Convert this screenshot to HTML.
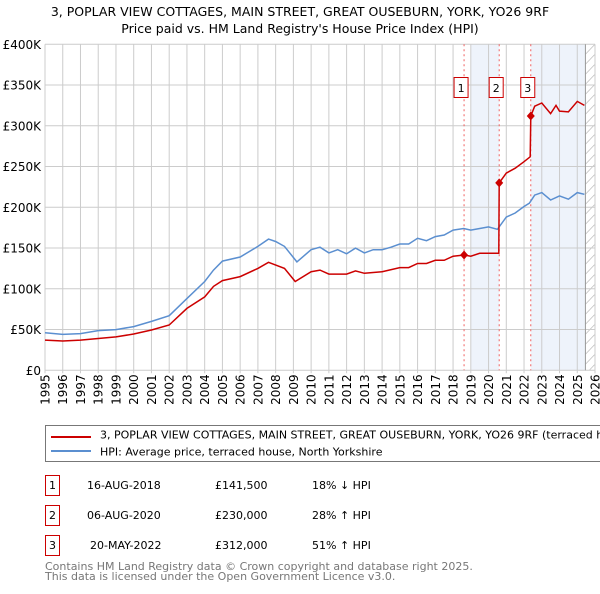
<!DOCTYPE html>
<html><head><meta charset="utf-8"><style>
body{margin:0;background:#fff;font-family:"DejaVu Sans","Liberation Sans",sans-serif;}
svg text{font-family:"DejaVu Sans","Liberation Sans",sans-serif;}
</style></head><body>
<svg id="c" width="600" height="590" xmlns="http://www.w3.org/2000/svg">
<text x="300" y="16" text-anchor="middle" font-size="12.5">3, POPLAR VIEW COTTAGES, MAIN STREET, GREAT OUSEBURN, YORK, YO26 9RF</text>
<text x="300" y="33" text-anchor="middle" font-size="12.5">Price paid vs. HM Land Registry's House Price Index (HPI)</text>
<g id="plot"></g>
<rect x="45.5" y="425.5" width="570" height="36" fill="#fff" stroke="#777"/>
<line x1="51" y1="437" x2="91" y2="437" stroke="#cc0000" stroke-width="2"/>
<text x="100" y="438.5" font-size="11">3, POPLAR VIEW COTTAGES, MAIN STREET, GREAT OUSEBURN, YORK, YO26 9RF (terraced house)</text>
<line x1="51" y1="451" x2="91" y2="451" stroke="#5b8fd0" stroke-width="2"/>
<text x="100" y="455.5" font-size="11">HPI: Average price, terraced house, North Yorkshire</text>
<g font-size="11">
<rect x="45.5" y="475.5" width="14" height="20" fill="none" stroke="#cc0000"/><text x="52.5" y="489" text-anchor="middle">1</text>
<text x="87" y="489">16-AUG-2018</text><text x="215" y="489">£141,500</text><text x="312" y="489">18% ↓ HPI</text>
<rect x="45.5" y="505.5" width="14" height="20" fill="none" stroke="#cc0000"/><text x="52.5" y="519" text-anchor="middle">2</text>
<text x="87" y="519">06-AUG-2020</text><text x="215" y="519">£230,000</text><text x="312" y="519">28% ↑ HPI</text>
<rect x="45.5" y="535.5" width="14" height="20" fill="none" stroke="#cc0000"/><text x="52.5" y="549" text-anchor="middle">3</text>
<text x="90" y="549">20-MAY-2022</text><text x="215" y="549">£312,000</text><text x="312" y="549">51% ↑ HPI</text>
</g>
<text x="45" y="570" font-size="11" fill="#777">Contains HM Land Registry data © Crown copyright and database right 2025.</text>
<text x="45" y="580" font-size="11" fill="#777">This data is licensed under the Open Government Licence v3.0.</text>
</svg>
<script>
const hpiYears=[1995,1996,1997,1998,1999,2000,2001,2002,2003,2004,2004.5,2005,2006,2007,2007.6,2008,2008.5,2009.2,2010,2010.5,2011,2011.5,2012,2012.5,2013,2013.5,2014,2014.5,2015,2015.5,2016,2016.5,2017,2017.5,2018,2018.6,2019,2019.5,2020,2020.5,2021,2021.5,2022,2022.3,2022.6,2023,2023.5,2024,2024.5,2025,2025.4];
const hpiValues=[46,44,45,48.7,50,53.6,60,67,88,109,123,134,139,152,161,158,152,133,148,151,144,148,143,150,144,148,148,151,155,155,162,159,164,166,172,174,172,174,176,173,188,193,201,205,215,218,209,214,210,218,216];
const priceYears=[1995,1996,1997,1998,1999,2000,2001,2002,2003,2004,2004.5,2005,2006,2007,2007.6,2008.5,2009.1,2010,2010.5,2011,2012,2012.5,2013,2014,2015,2015.5,2016,2016.5,2017,2017.5,2018,2018.62,2019,2019.5,2020.58,2020.6,2021,2021.5,2022,2022.35,2022.38,2022.6,2023,2023.5,2023.8,2024,2024.5,2025,2025.4];
const priceValues=[37,36,37,39,41,44.6,49.5,55.6,76,90,103,110,115,125,132.5,125,109,121,123,118,118,122,119,121,126,126,131,131,135,135,140,141.5,140,143.5,143.5,230,242,248,256,262,312,324,328,315,325,318,317,330,325];
const saleYears=[2018.62,2020.6,2022.38];
const saleValues=[141.5,230,312];
const saleLabels=["1","2","3"];
const yTicks=[0,50,100,150,200,250,300,350,400];
const yTickLabels=["£0","£50K","£100K","£150K","£200K","£250K","£300K","£350K","£400K"];
const xTicks=[1995,1996,1997,1998,1999,2000,2001,2002,2003,2004,2005,2006,2007,2008,2009,2010,2011,2012,2013,2014,2015,2016,2017,2018,2019,2020,2021,2022,2023,2024,2025,2026];

const X0=45,X1=595,Y0=370.3,Y1=44.3;
const xs=y=>X0+(y-1995)/(2026-1995)*(X1-X0);
const ys=v=>Y0-(v/400)*(Y0-Y1);
const NS="http://www.w3.org/2000/svg";
const g=document.getElementById('plot');
function mk(t,a){const e=document.createElementNS(NS,t);for(const k in a)e.setAttribute(k,a[k]);g.appendChild(e);return e;}
const END=2025.46;
let s1=mk('rect',{x:xs(2019),y:Y1,width:xs(saleYears[1])-xs(2019),height:Y0-Y1,fill:'#eef3fb'});


let s2=mk('rect',{x:xs(saleYears[2]),y:Y1,width:xs(END)-xs(saleYears[2]),height:Y0-Y1,fill:'#eef3fb'});


const cp=mk('clipPath',{id:'hc'});
const cr=document.createElementNS(NS,'rect');cr.setAttribute('x',xs(END));cr.setAttribute('y',Y1);cr.setAttribute('width',X1-xs(END));cr.setAttribute('height',Y0-Y1);cp.appendChild(cr);
const hg=mk('g',{'clip-path':'url(#hc)'});
for(let i=-2;i<40;i++){let yy=Y1+i*10;let l=document.createElementNS(NS,'line');l.setAttribute('x1',xs(END));l.setAttribute('y1',yy+10);l.setAttribute('x2',X1);l.setAttribute('y2',yy);l.setAttribute('stroke','#bbb');l.setAttribute('stroke-width','0.7');


hg.appendChild(l);}
yTicks.forEach((v,i)=>{let l=mk('line',{x1:X0,y1:ys(v),x2:X1,y2:ys(v),stroke:'#ccc'});


let t=mk('text',{x:X0-4,y:ys(v)+4.5,'text-anchor':'end','font-size':'12'});t.textContent=yTickLabels[i];

});
xTicks.forEach(y=>{let l=mk('line',{x1:xs(y),y1:Y1,x2:xs(y),y2:Y0+3,stroke:'#ccc'});


let t=mk('text',{x:0,y:0,'font-size':'12','text-anchor':'end',transform:`translate(${xs(y)+4.5},${Y0+4}) rotate(-90)`});t.textContent=y;

});
let el=mk('line',{x1:xs(END),y1:Y1,x2:xs(END),y2:Y0,stroke:'#999'});


saleYears.forEach((y,i)=>{let l=mk('line',{x1:xs(y),y1:Y1,x2:xs(y),y2:Y0,stroke:'#f06060','stroke-dasharray':'2,3'});

});
function path(xa,va,col,name){let d=xa.map((y,i)=>(i?'L':'M')+xs(y).toFixed(1)+','+ys(va[i]).toFixed(1)).join('');
let p=mk('path',{d:d,fill:'none',stroke:col,'stroke-width':1.5});

}
path(hpiYears,hpiValues,'#5b8fd0','hpi-line');
path(priceYears,priceValues,'#cc0000','price-paid-line');
saleYears.forEach((y,i)=>{const cx=xs(y),cy=ys(saleValues[i]);
let c=mk('path',{d:`M${cx},${cy-4.5}L${cx+4},${cy}L${cx},${cy+4.5}L${cx-4},${cy}Z`,fill:'#cc0000'});


let b=mk('rect',{x:cx-10,y:77.5,width:14,height:20,fill:'#fff',stroke:'#cc0000'});


let t=mk('text',{x:cx-3,y:92,'text-anchor':'middle','font-size':'11'});t.textContent=saleLabels[i];

});
</script>
</body></html>
